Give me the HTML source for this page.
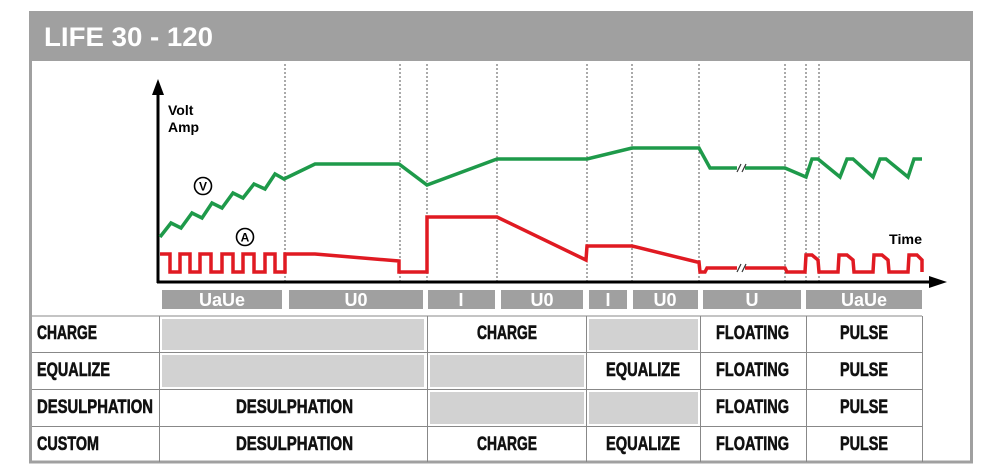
<!DOCTYPE html>
<html><head><meta charset="utf-8"><style>
html,body{margin:0;padding:0;background:#fff;}
svg{display:block;}
.t{font-family:"Liberation Sans",sans-serif;font-weight:bold;font-size:19px;fill:#111;stroke:#111;stroke-width:0.6;}
.p{font-family:"Liberation Sans",sans-serif;font-weight:bold;font-size:18px;fill:#fff;text-anchor:middle;}
</style></head><body>
<svg width="1000" height="476" viewBox="0 0 1000 476" xmlns="http://www.w3.org/2000/svg">
<rect x="30.5" y="12.5" width="941" height="449.5" fill="#fff" stroke="#a0a0a0" stroke-width="3"/>
<rect x="29" y="11" width="944" height="50" fill="#a0a0a0"/>
<text x="44" y="46" font-family="Liberation Sans,sans-serif" font-weight="bold" font-size="27" fill="#fff" textLength="169" lengthAdjust="spacingAndGlyphs">LIFE 30 - 120</text>

<g stroke="#555" stroke-width="1" stroke-dasharray="2,2">
<line x1="285" y1="64" x2="285" y2="282"/><line x1="400" y1="64" x2="400" y2="282"/>
<line x1="427" y1="64" x2="427" y2="282"/><line x1="497" y1="64" x2="497" y2="282"/>
<line x1="587" y1="64" x2="587" y2="282"/><line x1="632" y1="64" x2="632" y2="282"/>
<line x1="699" y1="64" x2="699" y2="282"/><line x1="785" y1="64" x2="785" y2="282"/>
<line x1="806" y1="64" x2="806" y2="282"/><line x1="819" y1="64" x2="819" y2="282"/>
</g>

<line x1="158" y1="283" x2="158" y2="92" stroke="#000" stroke-width="3"/>
<polygon points="158,79 152,95 164,95" fill="#000"/>
<line x1="157" y1="282" x2="932" y2="282" stroke="#000" stroke-width="3"/>
<polygon points="947,282 929,276 929,288" fill="#000"/>
<text x="168" y="115" font-family="Liberation Sans,sans-serif" font-weight="bold" font-size="14">Volt</text>
<text x="168" y="132" font-family="Liberation Sans,sans-serif" font-weight="bold" font-size="14">Amp</text>
<text x="889" y="244" font-family="Liberation Sans,sans-serif" font-weight="bold" font-size="14" textLength="33" lengthAdjust="spacingAndGlyphs">Time</text>

<g fill="none" stroke="#1e9a4a" stroke-width="3.5" stroke-linejoin="miter">
<polyline points="160,237 171,223 181,228 192,213 202,218 212,203 222,208 233,193 243,198 254,184 265,189 275,174 284,179 315,164 399,164 427,185 497,159 587,159 632,148 699,148 710,168 737,168"/>
<polyline points="745,168 785,168 806,177 812,159 818,159 840,177 847,159 853,159 873,177 880,159 886,159 908,177 914,159 922,159"/>
</g>
<g fill="none" stroke="#e01a22" stroke-width="3.5">
<polyline points="160,254 170,254 170,272 180,272 180,254 190,254 190,272 200,272 200,254 211,254 211,272 222,272 222,254 233,254 233,272 243,272 243,254 254,254 254,272 265,272 265,254 275,254 275,272 285,272 285,254 315,254 399,261 399,272 427,272 427,217 497,217 586,260 587,246 632,246 697,262 699,262 700,272 705,272 707,268 737,268"/>
<polyline points="745,268 785,268 787,272 805,272 806,255 812,255 818,260 819,272 838,272 839,255 847,255 853,260 854,272 873,272 874,255 882,255 888,260 889,272 908,272 909,255 917,255 922,260 922,272"/>
</g>
<g stroke="#333" stroke-width="1.2"><line x1="737" y1="172" x2="741" y2="164"/><line x1="742" y1="172" x2="746" y2="164"/>
<line x1="737" y1="272" x2="741" y2="264"/><line x1="742" y1="272" x2="746" y2="264"/></g>

<circle cx="203" cy="186" r="8.5" fill="#fff" stroke="#000" stroke-width="1.6"/>
<text x="203" y="190.5" text-anchor="middle" font-family="Liberation Sans,sans-serif" font-weight="bold" font-size="12">V</text>
<circle cx="245" cy="237" r="8.5" fill="#fff" stroke="#000" stroke-width="1.6"/>
<text x="245" y="241.5" text-anchor="middle" font-family="Liberation Sans,sans-serif" font-weight="bold" font-size="12">A</text>

<g fill="#a0a0a0">
<rect x="162" y="290" width="120" height="19"/><rect x="289" y="290" width="134" height="19"/>
<rect x="428" y="290" width="67" height="19"/><rect x="501" y="290" width="82" height="19"/>
<rect x="589" y="290" width="38" height="19"/><rect x="633" y="290" width="65" height="19"/>
<rect x="703" y="290" width="98" height="19"/><rect x="806" y="290" width="116" height="19"/>
</g>
<g class="p">
<text x="222" y="306">UaUe</text><text x="356" y="306">U0</text><text x="461" y="306">I</text>
<text x="542" y="306">U0</text><text x="608" y="306">I</text><text x="665" y="306">U0</text>
<text x="752" y="306">U</text><text x="864" y="306">UaUe</text>
</g>

<g fill="#d2d2d2">
<rect x="162" y="319" width="262" height="31"/><rect x="589" y="319" width="109" height="31"/>
<rect x="162" y="355" width="262" height="32"/><rect x="430" y="355" width="154" height="32"/>
<rect x="430" y="392" width="154" height="32"/><rect x="589" y="392" width="109" height="32"/>
</g>
<g stroke="#888" stroke-width="1" fill="none">
<line x1="32" y1="316" x2="922" y2="316"/><line x1="32" y1="352.5" x2="922" y2="352.5"/>
<line x1="32" y1="389.5" x2="922" y2="389.5"/><line x1="32" y1="426.5" x2="922" y2="426.5"/>
<line x1="159.5" y1="316" x2="159.5" y2="462"/><line x1="427.5" y1="316" x2="427.5" y2="462"/>
<line x1="586.5" y1="316" x2="586.5" y2="462"/><line x1="700.5" y1="316" x2="700.5" y2="462"/>
<line x1="806.5" y1="316" x2="806.5" y2="462"/><line x1="922.5" y1="316" x2="922.5" y2="462"/>
</g>
<g class="t">
<text x="37" y="339" textLength="60" lengthAdjust="spacingAndGlyphs">CHARGE</text>
<text x="37" y="376" textLength="73" lengthAdjust="spacingAndGlyphs">EQUALIZE</text>
<text x="37" y="413" textLength="116" lengthAdjust="spacingAndGlyphs">DESULPHATION</text>
<text x="37" y="450" textLength="62" lengthAdjust="spacingAndGlyphs">CUSTOM</text>

<text x="477" y="339" textLength="60" lengthAdjust="spacingAndGlyphs">CHARGE</text>
<text x="716" y="339" textLength="73" lengthAdjust="spacingAndGlyphs">FLOATING</text>
<text x="840" y="339" textLength="48" lengthAdjust="spacingAndGlyphs">PULSE</text>

<text x="606" y="376" textLength="74" lengthAdjust="spacingAndGlyphs">EQUALIZE</text>
<text x="716" y="376" textLength="73" lengthAdjust="spacingAndGlyphs">FLOATING</text>
<text x="840" y="376" textLength="48" lengthAdjust="spacingAndGlyphs">PULSE</text>

<text x="236" y="413" textLength="117" lengthAdjust="spacingAndGlyphs">DESULPHATION</text>
<text x="716" y="413" textLength="73" lengthAdjust="spacingAndGlyphs">FLOATING</text>
<text x="840" y="413" textLength="48" lengthAdjust="spacingAndGlyphs">PULSE</text>

<text x="236" y="450" textLength="117" lengthAdjust="spacingAndGlyphs">DESULPHATION</text>
<text x="477" y="450" textLength="60" lengthAdjust="spacingAndGlyphs">CHARGE</text>
<text x="606" y="450" textLength="74" lengthAdjust="spacingAndGlyphs">EQUALIZE</text>
<text x="716" y="450" textLength="73" lengthAdjust="spacingAndGlyphs">FLOATING</text>
<text x="840" y="450" textLength="48" lengthAdjust="spacingAndGlyphs">PULSE</text>
</g>
</svg>
</body></html>
